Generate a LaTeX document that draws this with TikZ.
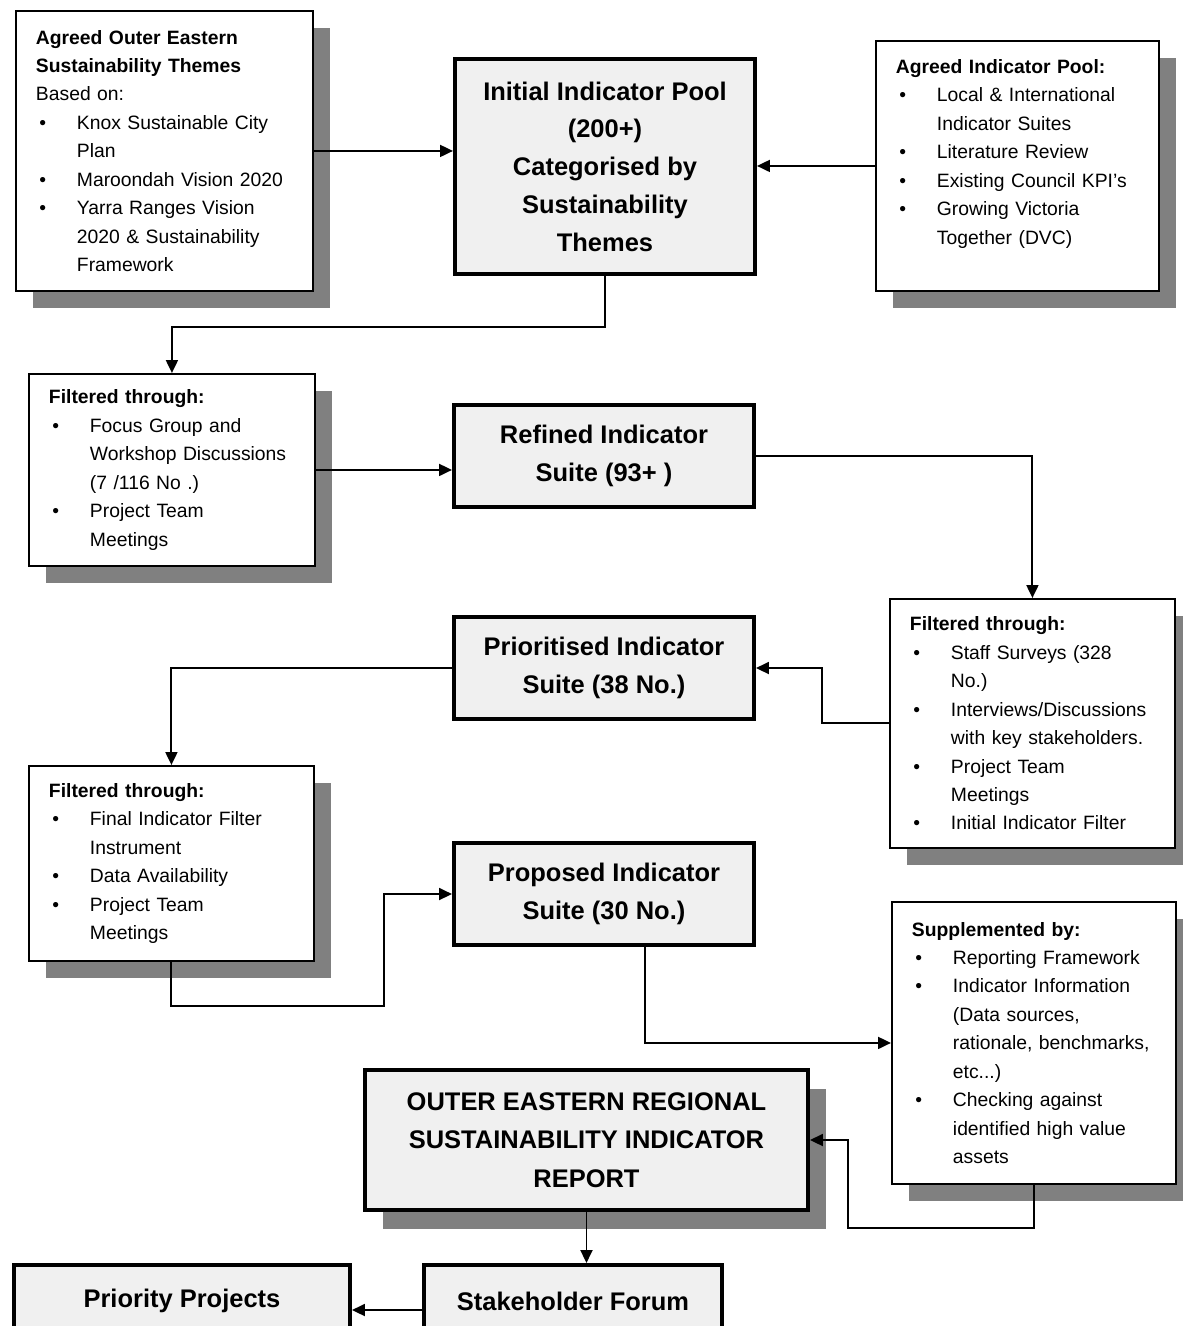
\documentclass[tikz,border=0pt]{standalone}
\usepackage{fontspec}
\setmainfont{Liberation Sans}
\usetikzlibrary{arrows.meta,shadows,calc,positioning}

\newcommand{\sidefont}{\fontsize{11}{16.2}\selectfont}
\newcommand{\mainfont}{\fontsize{14.5}{21.5}\selectfont\bfseries}
\newcommand{\bul}{\makebox[0.82cm][l]{\hspace{0.07cm}\textbullet}}
\newcommand{\ind}{\hspace*{0.82cm}}

\tikzset{
  sidebox/.style={draw, line width=1.1pt, fill=white, anchor=north west, align=left,
    inner xsep=0.4cm, inner ysep=0pt, font=\sidefont,
    drop shadow={shadow xshift=0.34cm, shadow yshift=-0.34cm, fill=black!50, opacity=1}},
  mainbox/.style={draw, line width=2.3pt, fill=black!6, anchor=north west, align=center,
    inner sep=0pt, font=\mainfont},
}

\begin{document}
\begin{tikzpicture}[x=0.02cm, y=-0.02cm, >={Triangle[length=2.6mm,width=2.4mm]}]
   \useasboundingbox (0,0) rectangle (1183,1326);
   \clip (0,0) rectangle (1183,1326);
   \fill[white] (0,0) rectangle (1183,1326);
   % boxes with the inputs and filters
   \begin{scope}[every node/.style={sidebox}]
    \node (themes) [text width=5.14cm, minimum height=5.6cm] at (15,10) {%
      \textbf{Agreed Outer Eastern}\\
      \textbf{Sustainability Themes}\\
      Based on:\\
      \bul Knox Sustainable City\\
      \ind Plan\\
      \bul Maroondah Vision 2020\\
      \bul Yarra Ranges Vision\\
      \ind 2020 \& Sustainability\\
      \ind Framework};
    \node (pool) [text width=4.86cm, minimum height=5cm] at (875,40) {%
      \textbf{Agreed Indicator Pool:}\\
      \bul Local \& International\\
      \ind Indicator Suites\\
      \bul Literature Review\\
      \bul Existing Council KPI's\\
      \bul Growing Victoria\\
      \ind Together (DVC)\\
      \mbox{}};
    \node (filt1) [text width=4.92cm, minimum height=3.84cm] at (28,373) {%
      \textbf{Filtered through:}\\
      \bul Focus Group and\\
      \ind Workshop Discussions\\
      \ind (7 /116 No .)\\
      \bul Project Team\\
      \ind Meetings};
    \node (filt2) [text width=4.9cm, minimum height=4.98cm] at (889,598) {%
      \textbf{Filtered through:}\\
      \bul Staff Surveys (328\\
      \ind No.)\\
      \bul Interviews/Discussions\\
      \ind with key stakeholders.\\
      \bul Project Team\\
      \ind Meetings\\
      \bul Initial Indicator Filter};
    \node (filt3) [text width=4.9cm, minimum height=3.9cm] at (28,765) {%
      \textbf{Filtered through:}\\
      \bul Final Indicator Filter\\
      \ind Instrument\\
      \bul Data Availability\\
      \bul Project Team\\
      \ind Meetings};
    \node (supp) [text width=4.88cm, minimum height=5.64cm] at (891,901) {%
      \textbf{Supplemented by:}\\
      \bul Reporting Framework\\
      \bul Indicator Information\\
      \ind (Data sources,\\
      \ind rationale, benchmarks,\\
      \ind etc...)\\
      \bul Checking against\\
      \ind identified high value\\
      \ind assets};
   \end{scope}
   % the indicator stages
   \begin{scope}[every node/.style={mainbox, minimum width=6cm, minimum height=2.04cm}]
    \node (initial) [minimum height=4.3cm] at (453,57)
      {Initial Indicator Pool\\(200+)\\Categorised by\\Sustainability\\Themes};
    \node (refined) at (452,403) {Refined Indicator\\Suite (93+ )};
    \node (prior) at (452,615) {Prioritised Indicator\\Suite (38 No.)};
    \node (proposed) at (452,841) {Proposed Indicator\\Suite (30 No.)};
    \node (report) [minimum width=8.86cm, minimum height=2.8cm, font=\fontsize{14.5}{22}\selectfont\bfseries,
      drop shadow={shadow xshift=0.36cm, shadow yshift=-0.38cm, fill=black!50, opacity=1}] at (363,1068)
      {OUTER EASTERN REGIONAL\\SUSTAINABILITY INDICATOR\\REPORT};
    \node (forum) [minimum width=5.96cm, minimum height=1.44cm] at (422,1263) {Stakeholder Forum};
    \node (priority) [minimum width=6.72cm, minimum height=1.44cm] at (12,1263) {Priority Projects};
   \end{scope}
   \begin{scope}[->, line width=1.1pt]
    \draw (themes.east) -- (themes.east -| initial.west);
    \draw (pool.west) -- (pool.west -| initial.east);
    \draw (initial.south) -- ++(0,51) -| (filt1.north);
    \draw (filt1.east) -- (filt1.east -| refined.west);
    \draw (refined.east) -| (filt2.north);
    \draw (filt2.west) -- ++(-67,0) |- (prior.east);
    \draw (prior.west) -| (filt3.north);
    \draw (filt3.south) |- (384,1006) |- (proposed.west);
    \draw ($(proposed.south)+(41,0)$) |- (supp.west);
    \draw (supp.south) |- (848,1228) |- (report.east);
    \draw (report.south) -- (report.south |- forum.north);
    \draw ([yshift=-0.18cm]forum.west) -- ([yshift=-0.18cm]forum.west -| priority.east);
   \end{scope}
\end{tikzpicture}
\end{document}
